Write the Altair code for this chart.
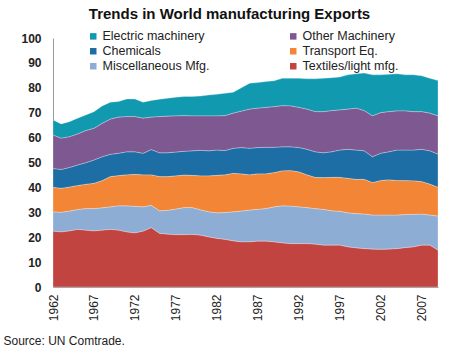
import altair as alt
import pandas as pd

years = list(range(1962, 2010))

textiles = [22.4, 22.1, 22.5, 23.1, 22.8, 22.5, 22.8, 23.1, 22.8, 22.1, 21.7, 22.4,
            23.8, 21.5, 21.2, 21.0, 21.0, 21.1, 20.8, 20.1, 19.5, 19.1, 18.5, 18.1,
            18.1, 18.4, 18.4, 18.1, 17.7, 17.4, 17.4, 17.4, 17.2, 16.8, 16.8, 16.8,
            16.1, 15.7, 15.4, 15.2, 15.1, 15.2, 15.4, 15.8, 16.1, 16.8, 16.8, 14.8]
misc = [7.8, 7.9, 8.0, 8.0, 8.7, 9.0, 9.0, 9.1, 9.8, 10.5, 10.7, 9.8,
        9.0, 9.1, 9.6, 10.3, 10.9, 10.8, 10.2, 10.1, 10.3, 10.8, 11.7, 12.4,
        12.8, 12.8, 13.1, 14.1, 14.9, 15.1, 14.8, 14.5, 14.3, 14.4, 13.8, 13.6,
        13.7, 13.8, 13.9, 13.7, 13.8, 13.7, 13.5, 13.3, 13.1, 12.5, 12.1, 13.7]
transport = [9.8, 9.6, 9.6, 9.6, 9.7, 10.1, 10.9, 12.1, 12.1, 12.4, 12.8, 12.8,
             12.2, 13.7, 13.5, 13.3, 13.0, 12.9, 13.6, 14.4, 15.0, 15.1, 15.4, 14.9,
             14.1, 14.2, 13.9, 13.7, 14.0, 14.2, 14.0, 13.1, 12.5, 12.7, 13.4, 13.6,
             13.8, 13.7, 13.9, 13.0, 13.8, 14.1, 13.8, 13.6, 13.4, 13.0, 12.4, 11.5]
chemicals = [7.6, 7.6, 7.9, 8.3, 8.7, 9.4, 9.6, 9.0, 9.0, 9.3, 9.1, 8.7,
             10.2, 9.6, 9.6, 9.6, 9.6, 9.9, 10.3, 10.1, 10.2, 9.8, 10.1, 10.6,
             10.7, 10.6, 10.7, 10.2, 9.7, 9.6, 9.8, 10.3, 10.3, 10.0, 10.3, 11.0,
             11.7, 11.8, 11.5, 10.4, 11.0, 11.3, 12.3, 12.3, 12.4, 13.0, 13.4, 13.4]
other_machinery = [13.4, 12.5, 12.3, 12.4, 12.9, 12.7, 13.4, 14.1, 14.5, 14.1, 14.1, 14.1,
                   13.0, 14.5, 14.7, 14.5, 14.3, 14.0, 13.8, 14.0, 13.7, 14.0, 14.1, 14.6,
                   15.7, 15.8, 16.0, 16.3, 16.5, 16.4, 16.1, 16.1, 16.1, 16.5, 16.5, 16.1,
                   16.1, 16.8, 16.1, 16.4, 16.3, 16.1, 15.7, 15.7, 15.4, 15.1, 15.1, 15.3]
electric = [6.1, 5.8, 6.1, 6.4, 6.3, 6.7, 7.0, 6.8, 6.3, 7.1, 7.1, 6.4,
            6.7, 7.0, 7.2, 7.5, 7.7, 7.8, 8.0, 8.4, 8.7, 9.0, 8.4, 9.4,
            10.4, 10.3, 10.4, 10.4, 11.0, 11.1, 11.7, 12.2, 13.2, 13.4, 13.2, 13.2,
            13.8, 13.8, 15.1, 16.5, 15.2, 15.0, 14.9, 14.5, 14.8, 14.4, 14.0, 14.2]

tick_years = [1962, 1967, 1972, 1977, 1982, 1987, 1992, 1997, 2002, 2007]
y_ticks = [0, 10, 20, 30, 40, 50, 60, 70, 80, 90, 100]

# legend order (column-major: left column then right column)
legend_names = ["Electric machinery", "Chemicals", "Miscellaneous Mfg.",
                "Other Machinery", "Transport Eq.", "Textiles/light mfg."]
legend_colors = ["#1199B0", "#1E6EA6", "#8DADD5", "#7D5891", "#F28636", "#C24441"]
series_values = [electric, chemicals, misc, other_machinery, transport, textiles]
stack_rank = [5, 3, 1, 4, 2, 0]

rows = []
for name, vals, rank in zip(legend_names, series_values, stack_rank):
    for yr, v in zip(years, vals):
        rows.append({"year": yr, "share": v, "sector": name, "rank": rank})
df = pd.DataFrame(rows)

chart = alt.Chart(df).mark_area(
    stroke="#ffffff", strokeWidth=0.6, strokeOpacity=0.45
).encode(
    x=alt.X("year:Q",
            scale=alt.Scale(domain=[1962, 2009], nice=False, zero=False),
            axis=alt.Axis(values=tick_years, format="d", labelAngle=270,
                          labelAlign="right", labelBaseline="middle",
                          ticks=False, grid=False, domainColor="#9a9a9a",
                          labelFontSize=12, labelPadding=7, labelColor="#222222",
                          title="Source: UN Comtrade.", titleX=-50, titleY=53,
                          titleAlign="left", titleBaseline="middle",
                          titleFontWeight="normal", titleFontSize=12,
                          titleColor="#222222")),
    y=alt.Y("share:Q", stack="zero",
            scale=alt.Scale(domain=[0, 100], nice=False),
            axis=alt.Axis(values=y_ticks, ticks=False, grid=False,
                          labelFontWeight="bold", labelFontSize=12,
                          labelPadding=12, labelColor="#222222",
                          domainColor="#9a9a9a", title=None)),
    color=alt.Color("sector:N",
                    scale=alt.Scale(domain=legend_names, range=legend_colors),
                    legend=alt.Legend(title=None, orient="none", legendX=34,
                                      legendY=-8, columns=2, symbolType="square",
                                      symbolSize=42, symbolStrokeWidth=0,
                                      labelFontSize=12.5, labelColor="#222222",
                                      columnPadding=77, rowPadding=2,
                                      labelOffset=3)),
    order=alt.Order("rank:Q", sort="ascending"),
).properties(
    width=385, height=249,
    title=alt.TitleParams("Trends in World manufacturing Exports", fontSize=15,
                          fontWeight="bold", anchor="middle", dx=-16, offset=8,
                          color="#111111"),
    autosize=alt.AutoSizeParams(type="none"),
    padding={"left": 53, "top": 38, "right": 17, "bottom": 64},
).configure(
    font="Liberation Sans"
).configure_view(stroke=None)

chart.save("out.html", embed_options={"renderer": "svg", "actions": False})
